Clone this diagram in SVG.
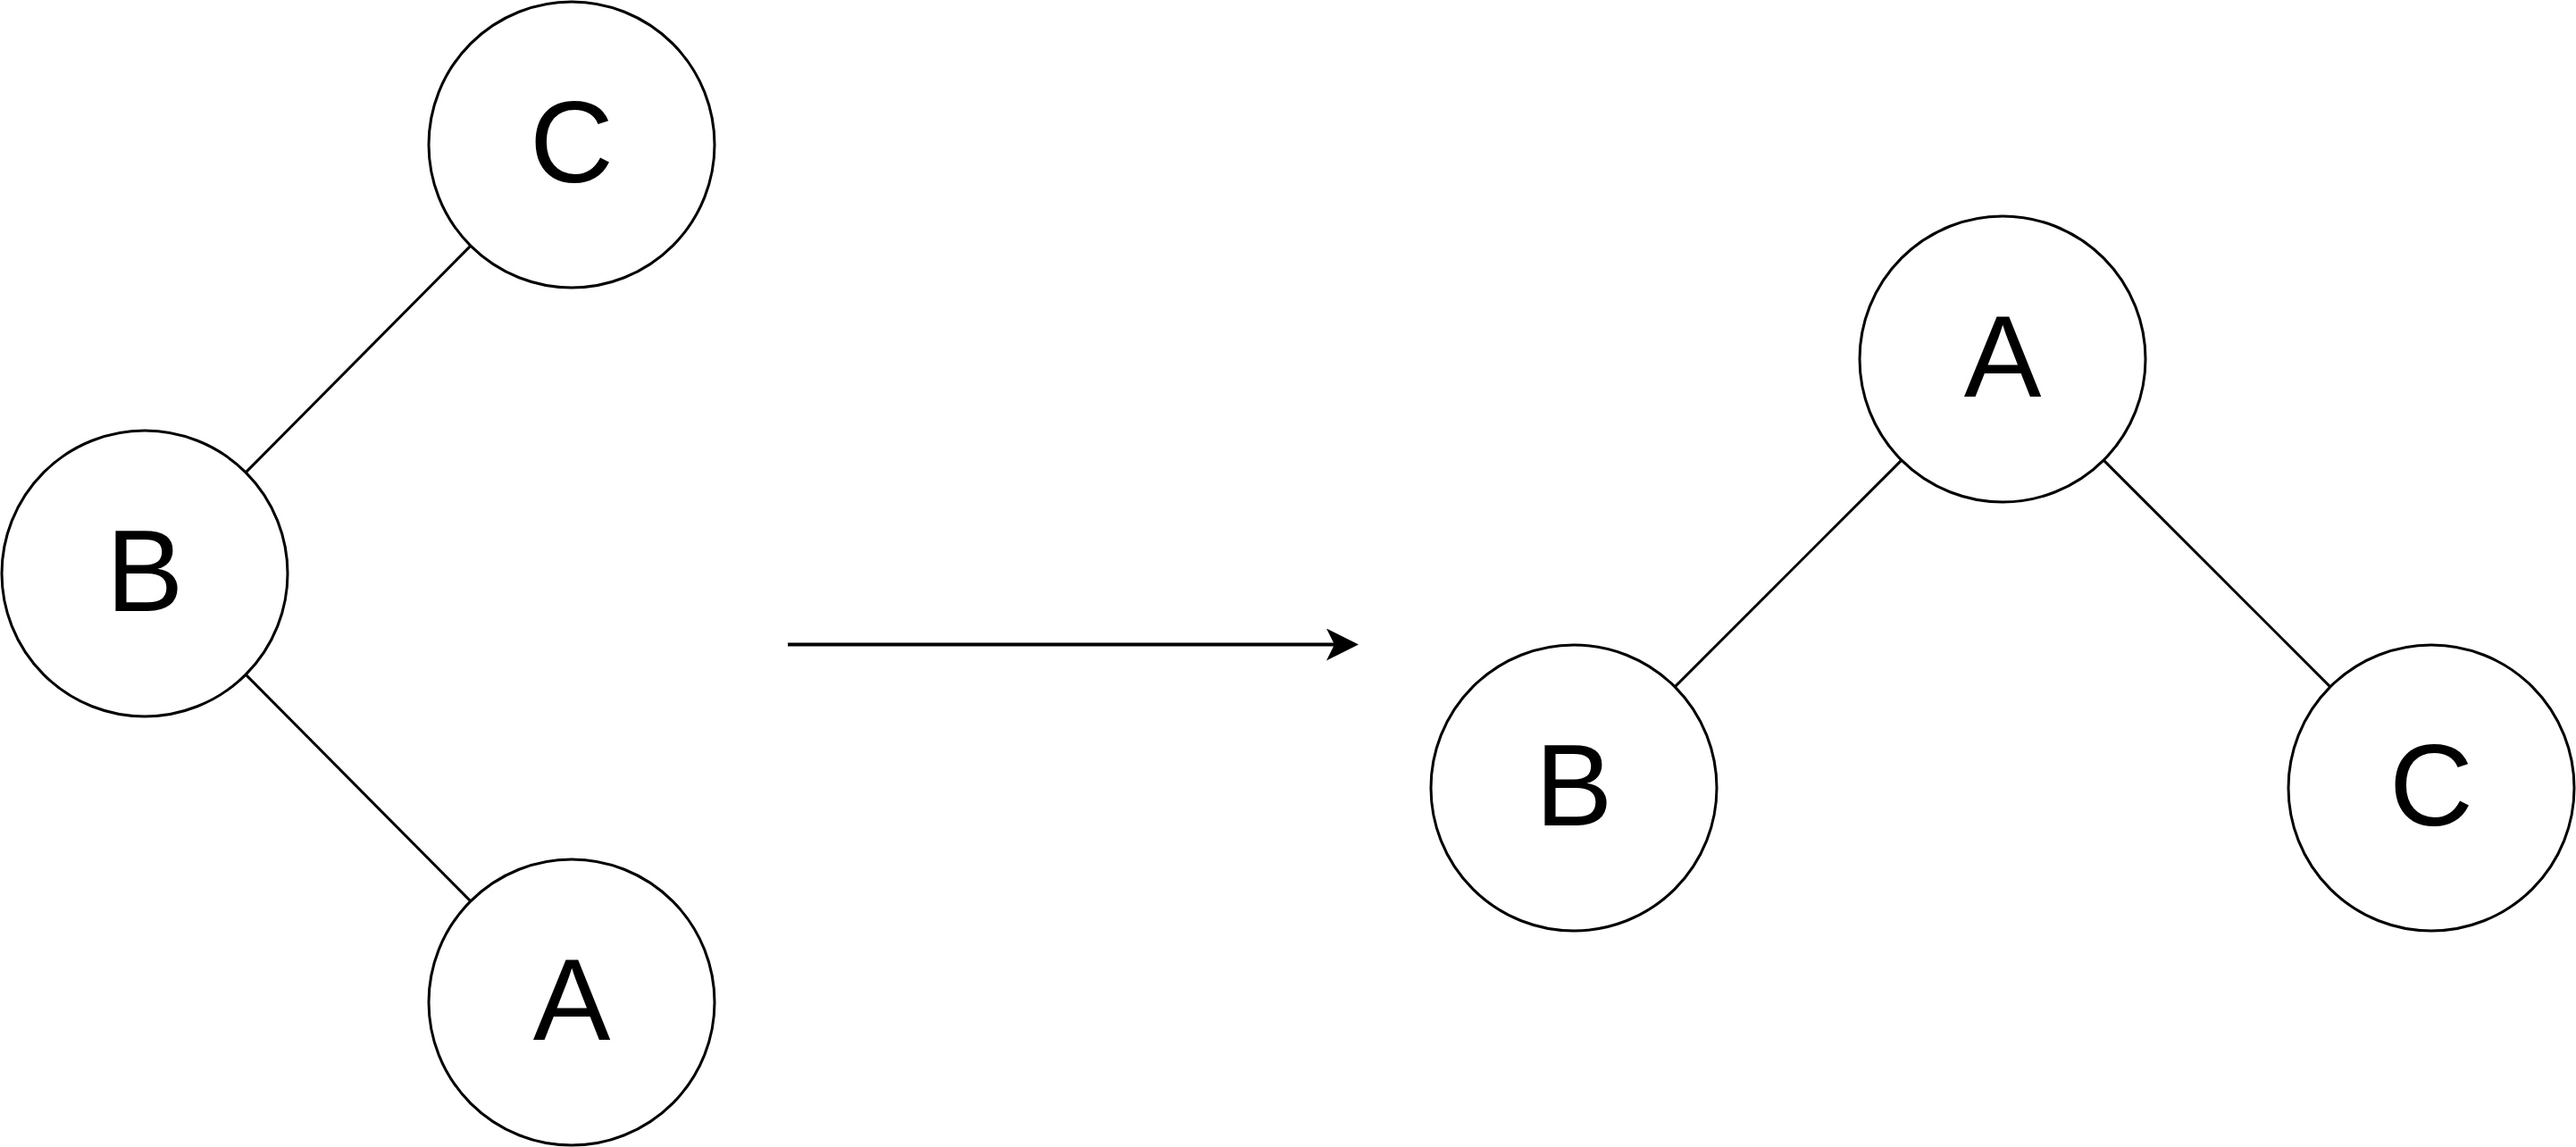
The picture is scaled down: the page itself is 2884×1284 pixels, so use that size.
<svg xmlns="http://www.w3.org/2000/svg" width="2884" height="1284" viewBox="0 0 2884 1284">
<style>
.node circle{fill:#fff;stroke:#000;stroke-width:3}
.node text{font-family:"Liberation Sans",Arial,Helvetica,sans-serif;font-size:130px;fill:#000;text-anchor:middle}
.edge{stroke:#000;stroke-width:3;fill:none}
.arrow{stroke:#000;stroke-width:4;fill:none}
</style>
<defs>
<marker id="classic" markerUnits="userSpaceOnUse" viewBox="0 0 36 36" refX="9" refY="18" markerWidth="36" markerHeight="36" orient="auto">
<path d="M0,0 L36,18 L0,36 L9,18 Z" fill="#000"/>
</marker>
</defs>
<rect width="2884" height="1284" fill="#fff"/>
<g id="connectors">
<line class="edge" x1="275.1" y1="528.9" x2="526.9" y2="275.1"/>
<line class="edge" x1="275.1" y1="755.1" x2="526.9" y2="1008.9"/>
<line class="edge" x1="2128.9" y1="515.1" x2="1875.1" y2="768.9"/>
<line class="edge" x1="2355.1" y1="515.1" x2="2608.9" y2="768.9"/>
<line class="arrow" x1="882" y1="721.5" x2="1494" y2="721.5" marker-end="url(#classic)"/>
</g>
<g id="left-C" class="node"><circle cx="640" cy="162" r="160"/><text x="640" y="204">C</text></g>
<g id="left-B" class="node"><circle cx="162" cy="642" r="160"/><text x="162" y="684">B</text></g>
<g id="left-A" class="node"><circle cx="640" cy="1122" r="160"/><text x="640" y="1164">A</text></g>
<g id="right-A" class="node"><circle cx="2242" cy="402" r="160"/><text x="2242" y="444">A</text></g>
<g id="right-B" class="node"><circle cx="1762" cy="882" r="160"/><text x="1762" y="924">B</text></g>
<g id="right-C" class="node"><circle cx="2722" cy="882" r="160"/><text x="2722" y="924">C</text></g>
</svg>
